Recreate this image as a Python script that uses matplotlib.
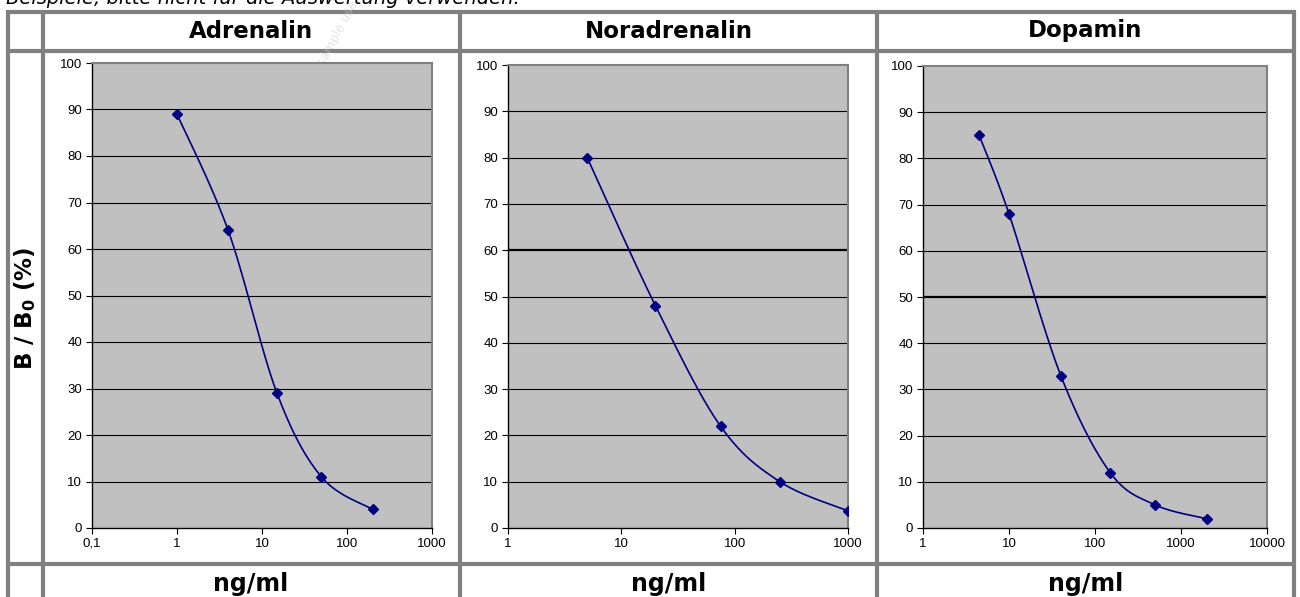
import numpy as np
import matplotlib.pyplot as plt
from matplotlib.ticker import FixedLocator, NullLocator

# data
titles = ["Adrenalin", "Noradrenalin", "Dopamin"]
adrenalin_x = [1, 4, 15, 50, 200]
adrenalin_y = [89, 64, 29, 11, 4]
noradrenalin_x = [5, 20, 75, 250, 1000]
noradrenalin_y = [80, 48, 22, 10, 3.7]
dopamin_x = [4.5, 10, 40, 150, 500, 2000]
dopamin_y = [85, 68, 33, 12, 5, 2]

xlims = [(0.1, 1000), (1, 1000), (1, 10000)]
xtick_labels = [["0,1", "1", "10", "100", "1000"],
                ["1", "10", "100", "1000"],
                ["1", "10", "100", "1000", "10000"]]
y_ticks = list(range(0, 101, 10))
x_unit = "ng/ml"
y_label = r"B / B$_\mathbf{0}$ (%)"
note = "Beispiele, bitte nicht für die Auswertung verwenden."

W, H = 1300, 597
NAVY = "#000080"
GRID_GRAY = "#808080"
PLOT_BG = "#C0C0C0"
TICK_FONT = ["Liberation Sans Narrow", "Liberation Sans", "DejaVu Sans"]


def px_rect(left, top, right, bottom):
    return [left / W, 1 - bottom / H, (right - left) / W, (bottom - top) / H]


def smooth_curve(xs, ys, xlim, n=40):
    # excel style smoothed line, built in normalised log-x / y space
    lx = np.log10(xs)
    span = np.log10(xlim[1]) - np.log10(xlim[0])
    px = (lx - np.log10(xlim[0])) / span
    py = np.asarray(ys, dtype=float) / 100.0
    pts = np.column_stack([px, py])
    out = [pts[0]]
    for i in range(len(pts) - 1):
        p0 = pts[i - 1] if i > 0 else pts[i]
        p1 = pts[i]
        p2 = pts[i + 1]
        p3 = pts[i + 2] if i + 2 < len(pts) else pts[i + 1]
        c1 = p1 + (p2 - p0) / 6.0
        c2 = p2 - (p3 - p1) / 6.0
        t = np.linspace(0, 1, n)[1:, None]
        seg = ((1 - t) ** 3) * p1 + 3 * ((1 - t) ** 2) * t * c1 \
            + 3 * (1 - t) * t ** 2 * c2 + t ** 3 * p2
        out.extend(seg)
    out = np.array(out)
    cx = 10 ** (out[:, 0] * span + np.log10(xlim[0]))
    cy = out[:, 1] * 100.0
    return cx, cy


fig = plt.figure(figsize=(W / 100, H / 100), dpi=100)
fig.patch.set_facecolor("white")

# table grid and texts drawn in pixel coords on a background axes
bg = fig.add_axes([0, 0, 1, 1])
bg.set_xlim(0, W)
bg.set_ylim(H, 0)
bg.axis("off")

lw_tab = 3.0
for y in [11.5, 50.5, 564]:
    bg.plot([6, 1296], [y, y], color=GRID_GRAY, lw=lw_tab, solid_capstyle="butt")
for x in [8, 42.5, 460, 877, 1294]:
    bg.plot([x, x], [10, H + 2], color=GRID_GRAY, lw=lw_tab, solid_capstyle="butt")

# the note line is cut at the top edge in the reference as well
bg.text(6, -1, note, fontsize=14, style="italic", ha="left", va="center",
        color="black")
bg.text(338, 33, "sample use", fontsize=9, rotation=62, ha="center",
        va="center", color="#c8c8c8", alpha=0.5)

col_centres = [251, 668.5, 1085.5]
for cx, title in zip(col_centres, titles):
    bg.text(cx, 31, title, fontsize=16.5, fontweight="bold", ha="center",
            va="center")
    bg.text(cx, 584, x_unit, fontsize=17, fontweight="bold", ha="center",
            va="center")

bg.text(25, 308, y_label, fontsize=16.5, fontweight="bold", rotation=90,
        ha="center", va="center")

plot_boxes = [(92, 63, 432, 528), (508, 65, 848, 528), (923, 66, 1267, 528)]
series = [(adrenalin_x, adrenalin_y), (noradrenalin_x, noradrenalin_y),
          (dopamin_x, dopamin_y)]
thick_grid = [None, 60, 50]

for box, (xs, ys), xlim, labels, thick in zip(plot_boxes, series, xlims,
                                              xtick_labels, thick_grid):
    ax = fig.add_axes(px_rect(*box))
    ax.set_facecolor(PLOT_BG)
    ax.set_xscale("log")
    ax.set_xlim(*xlim)
    ax.set_ylim(0, 100)

    for v in y_ticks[1:-1]:
        ax.axhline(v, color="black", lw=1.6 if v == thick else 0.8, zorder=1)

    cx, cy = smooth_curve(xs, ys, xlim)
    ax.plot(cx, cy, color=NAVY, lw=1.2, zorder=3)
    ax.plot(xs, ys, linestyle="none", marker="D", markersize=5.5,
            color=NAVY, zorder=4)

    decades = [10 ** k for k in range(int(np.log10(xlim[0])),
                                       int(np.log10(xlim[1])) + 1)]
    ax.xaxis.set_major_locator(FixedLocator(decades))
    ax.xaxis.set_minor_locator(NullLocator())
    ax.set_xticklabels(labels)
    ax.set_yticks(y_ticks)
    ax.set_yticklabels([str(v) for v in y_ticks])
    ax.tick_params(axis="both", direction="out", length=4, width=0.8,
                   colors="black", labelsize=9.5, pad=3)
    for lab in ax.get_xticklabels() + ax.get_yticklabels():
        lab.set_family(TICK_FONT)

    ax.spines["left"].set_color("black")
    ax.spines["bottom"].set_color("black")
    ax.spines["left"].set_linewidth(1.0)
    ax.spines["bottom"].set_linewidth(1.0)
    ax.spines["top"].set_color(GRID_GRAY)
    ax.spines["right"].set_color(GRID_GRAY)
    ax.spines["top"].set_linewidth(1.5)
    ax.spines["right"].set_linewidth(1.5)

fig.savefig("out.png", dpi=100)
